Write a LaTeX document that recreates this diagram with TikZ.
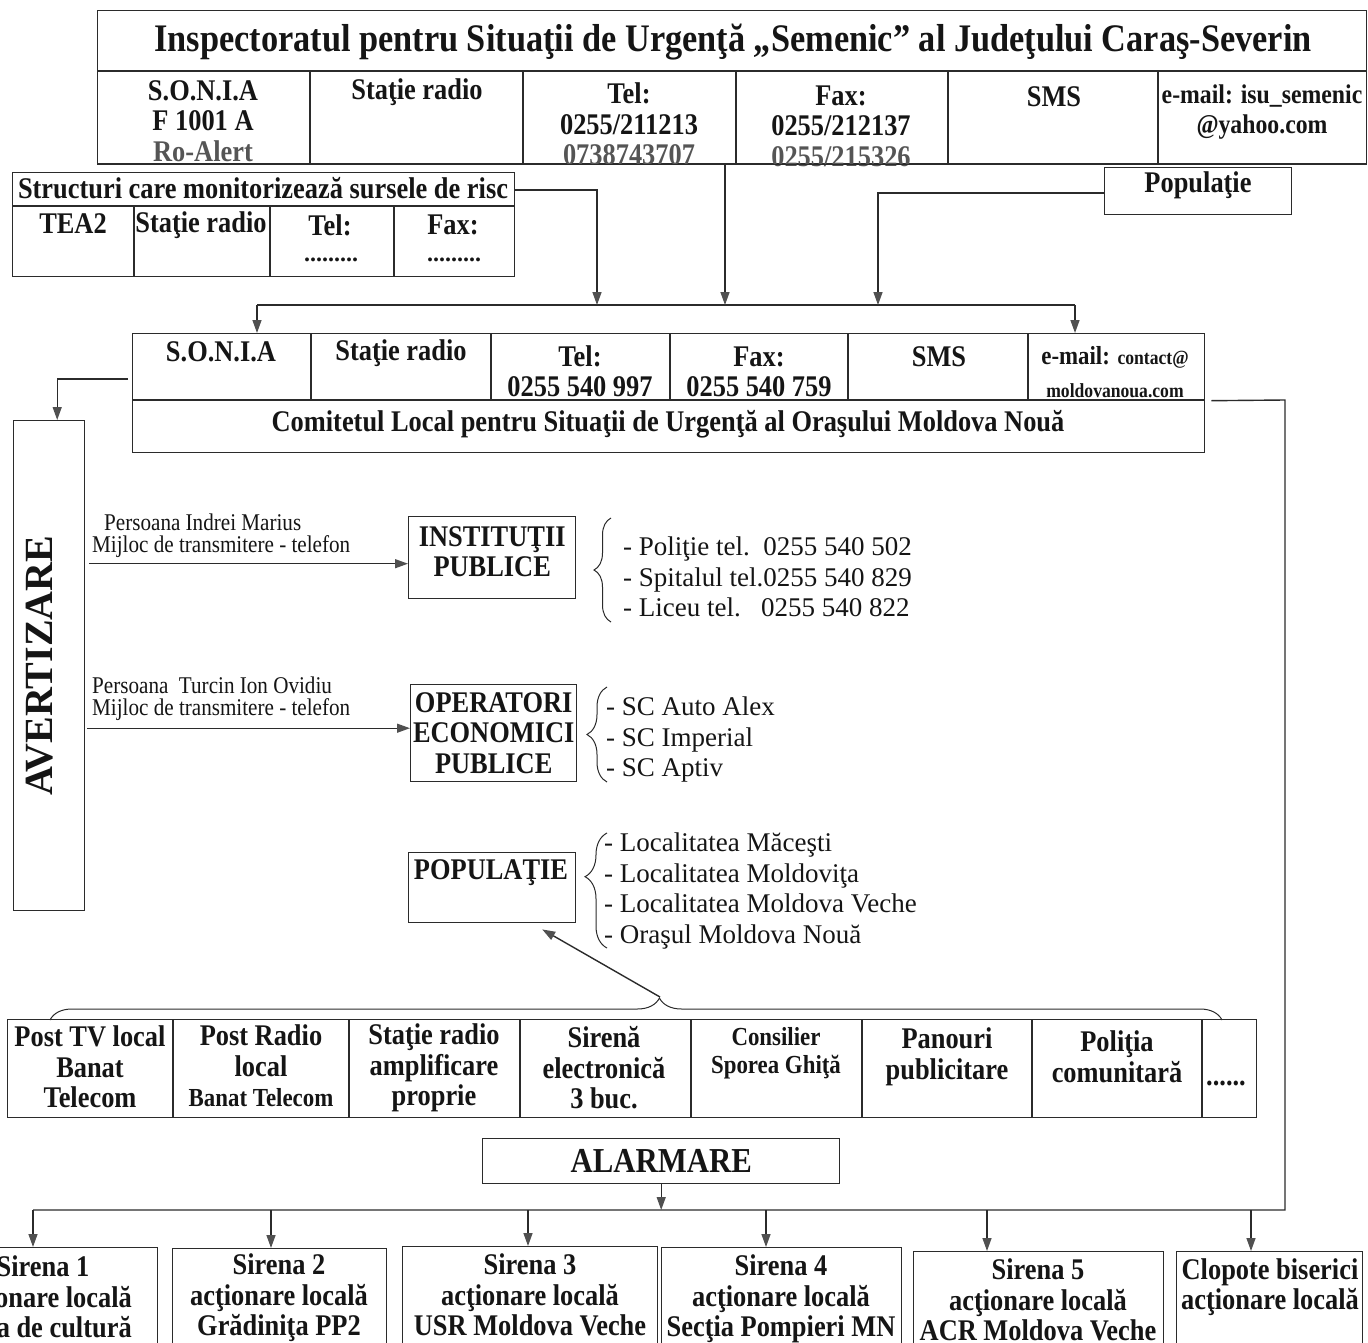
\documentclass[tikz,border=0pt]{standalone}
\usepackage{fontspec}
\setmainfont{Liberation Serif}
\newfontfamily\cnd[FakeStretch=0.88]{Liberation Serif}
\usetikzlibrary{arrows.meta,decorations.pathreplacing,calc}
\definecolor{linec}{HTML}{2B2B2B}
\definecolor{txt}{HTML}{151515}
\definecolor{arrc}{HTML}{505050}
\definecolor{gry}{HTML}{555555}
\begin{document}
\begin{tikzpicture}[x=1pt,y=-1pt,
  ln/.style={draw=linec, line width=1.4pt},
  box/.style={ln, rectangle, inner sep=0pt, anchor=north west},
  arr/.style={-{Triangle[length=13pt,width=9pt,color=arrc]}},
  tb/.style={font=\cnd\bfseries\fontsize{30}{30.5}\selectfont, align=center, inner sep=0pt, text=txt},
  tbs/.style={font=\cnd\bfseries\fontsize{26}{28}\selectfont, align=center, inner sep=0pt, text=txt},
  lab/.style={font=\cnd\fontsize{24}{25}\selectfont, inner sep=0pt, anchor=west, text=txt},
  lst/.style={font=\fontsize{27}{30.5}\selectfont, align=left, inner sep=0pt, anchor=west, text=txt},
  brc/.style={draw=linec, line width=1pt, decorate},
]
\useasboundingbox (0,0) rectangle (1368,1343);
\clip (0,0) rectangle (1368,1343);

% ---------- boxes ----------
\node[box, minimum width=1269pt, minimum height=153pt] (isu) at (97,10) {};
\node[box, minimum width=502pt, minimum height=104pt] (struct) at (12,172) {};
\node[box, minimum width=187pt, minimum height=47pt] (popT) at (1104,167) {};
\node[box, minimum width=1072pt, minimum height=119pt] (clsu) at (132,333) {};
\node[box, minimum width=71pt, minimum height=490pt] (avert) at (13,420) {};
\node[box, minimum width=167pt, minimum height=82pt] (inst) at (408,516) {};
\node[box, minimum width=166pt, minimum height=97pt] (oper) at (410,684) {};
\node[box, minimum width=167pt, minimum height=70pt] (popul) at (408,852) {};
\node[box, minimum width=1249pt, minimum height=98pt] (media) at (7,1019) {};
\node[box, minimum width=357pt, minimum height=45pt] (alarm) at (482,1138) {};
\node[box, minimum width=227pt, minimum height=120pt] (s1) at (-70,1247) {};
\node[box, minimum width=214pt, minimum height=120pt] (s2) at (172,1248) {};
\node[box, minimum width=255pt, minimum height=120pt] (s3) at (402,1246) {};
\node[box, minimum width=240pt, minimum height=120pt] (s4) at (661,1247) {};
\node[box, minimum width=250pt, minimum height=120pt] (s5) at (913,1251) {};
\node[box, minimum width=186pt, minimum height=120pt] (s6) at (1176,1251) {};

% ---------- table inner lines ----------
\draw[ln] (97,71) -- (1366,71);
\foreach \x in {310,523,736,948,1158} \draw[ln] (\x,71) -- (\x,163);
\draw[ln] (12,206) -- (514,206);
\foreach \x in {134,270,394} \draw[ln] (\x,206) -- (\x,276);
\draw[ln] (132,400) -- (1204,400);
\foreach \x in {311,491,670,848,1028} \draw[ln] (\x,333) -- (\x,400);
\foreach \x in {173,349,520,691,862,1032,1202} \draw[ln] (\x,1019) -- (\x,1117);

% ---------- texts: ISU ----------
\node[font=\cnd\bfseries\fontsize{39}{40}\selectfont, inner sep=0pt, text=txt] (title) at (733,42)
  {Inspectoratul pentru Situaţii de Urgenţă „Semenic” al Judeţului Caraş-Severin};
\node[tb] (i1) at (203,121) {S.O.N.I.A\\F 1001 A\\\textcolor{gry}{Ro-Alert}};
\node[tb] (i2) at (417,92) {Staţie radio};
\node[tb] (i3) at (629,124) {Tel:\\0255/211213\\\textcolor{gry}{0738743707}};
\node[tb] (i4) at (841,126) {Fax:\\0255/212137\\\textcolor{gry}{0255/215326}};
\node[tb] (i5) at (1054,97) {SMS};
\node[font=\cnd\bfseries\fontsize{27}{30}\selectfont, align=center, inner sep=0pt, text=txt] (i6) at (1262,112) {e-mail: isu\_semenic\\@yahoo.com};
\draw[ln] (isu.south west) -- (isu.south east);

% ---------- texts: structures ----------
\node[tb] (st0) at (263,188) {Structuri care monitorizează sursele de risc};
\node[tb] (st1) at (73,224) {TEA2};
\node[tb] (st2) at (201,225) {Staţie radio};
\node[tb] (st3) at (330,225) {Tel:};
\node[tb, font=\bfseries\fontsize{24}{24}\selectfont] (st3d) at (331,260) {.........};
\node[tb] (st4) at (453,225) {Fax:};
\node[tb, font=\bfseries\fontsize{24}{24}\selectfont] (st4d) at (454,260) {.........};
\node[tb] (pt) at (1198,185) {Populaţie};

% ---------- texts: CLSU ----------
\node[tb] (c1) at (221,352) {S.O.N.I.A};
\node[tb] (c2) at (401,353) {Staţie radio};
\node[tb] (c3) at (580,371) {Tel:\\0255 540 997};
\node[tb] (c4) at (759,372) {Fax:\\0255 540 759};
\node[tb] (c5) at (939,357) {SMS};
\node[tbs] (c6) at (1115,357) {e-mail: {\fontsize{20}{20}\selectfont contact@}};
\node[tb, font=\cnd\bfseries\fontsize{20}{20}\selectfont] (c7) at (1115,391) {moldovanoua.com};
\node[tb] (c8) at (668,424) {Comitetul Local pentru Situaţii de Urgenţă al Oraşului Moldova Nouă};

% ---------- connectors top ----------
\coordinate (bw) at (257,305);
\coordinate (b1) at (597,305);
\coordinate (b2) at (725,305);
\coordinate (b3) at (878,305);
\coordinate (be) at (1075,305);
\draw[ln] (bw) -- (be);
\draw[ln,arr] ($(struct.north east)+(0,18)$) -| (b1);
\draw[ln,arr] (b2 |- isu.south) -- (b2);
\draw[ln,arr] ($(popT.west)+(0,2)$) -| (b3);
\draw[ln,arr] (bw) -- (bw |- clsu.north);
\draw[ln,arr] (be) -- (be |- clsu.north);

% ---------- avertizare ----------
\draw[ln,arr] ($(clsu.north west)+(-4,46)$) -| ($(avert.north)+(8,0)$);
\node[rotate=90, font=\bfseries\fontsize{40}{40}\selectfont, inner sep=0pt, text=txt] (avtxt)
  at ($(avert.center)+(-10,0)$) {AVERTIZARE};

\draw[ln,arr] ($(avert.east |- inst.west)+(4,6)$) -- ($(inst.west)+(0,6)$);
\draw[ln,arr] ($(avert.east |- oper.west)+(2,-5)$) -- ($(oper.west)+(0,-5)$);
\node[lab] (p1a) at (104,522) {Persoana Indrei Marius};
\node[lab] (p1b) at (92,547) {Mijloc de transmitere - telefon};
\node[lab] (p2a) at (92,685) {Persoana\ \ Turcin Ion Ovidiu};
\node[lab] (p2b) at (92,710) {Mijloc de transmitere - telefon};

\node[tb] (instt) at ($(inst.center)+(0,-6)$) {INSTITUŢII\\PUBLICE};
\node[tb] (opert) at (oper.center) {OPERATORI\\ECONOMICI\\PUBLICE};
\node[tb] (popult) at (491,873) {POPULAŢIE};

\draw[brc, decoration={brace, amplitude=17pt, aspect=0.5}] (611,622) -- (611,518);
\draw[brc, decoration={brace, amplitude=20pt, aspect=0.5}] (607,782) -- (607,687);
\draw[brc, decoration={brace, amplitude=22pt, aspect=0.62}] (607,948) -- (607,833);

\node[lst] (l1) at (623,577) {- Poliţie tel.\ \ 0255 540 502\\- Spitalul tel.0255 540 829\\- Liceu tel.\ \ \ 0255 540 822};
\node[lst] (l2) at (606,740) {- SC Auto Alex\\- SC Imperial\\- SC Aptiv};
\node[lst] (l3) at (604,891) {- Localitatea Măceşti\\- Localitatea Moldoviţa\\- Localitatea Moldova Veche\\- Oraşul Moldova Nouă};

% ---------- media ----------
\draw[brc, decoration={brace, amplitude=22pt, aspect=0.52}] (50,1020) -- (1222,1020);
\coordinate (btip) at (660,997);
\draw[ln,arr] (btip) -- ($(popul.south)+(50,6)$);

\node[tb] (m1) at (90,1067) {Post TV local\\Banat\\Telecom};
\node[tb] (m2) at (261,1066) {Post Radio\\local\\{\fontsize{26}{30}\selectfont Banat Telecom}};
\node[tb] (m3) at (434,1068) {Staţie radio\\amplificare\\proprie};
\node[tb] (m4) at (604,1068) {Sirenă\\electronică\\3 buc.};
\node[tbs] (m5) at (776,1053) {Consilier\\Sporea Ghiţă};
\node[tb] (m6) at (947,1057) {Panouri\\publicitare};
\node[tb] (m7) at (1117,1057) {Poliţia\\comunitară};
\node[tb] (m8) at (1226,1083) {......};

% ---------- alarmare ----------
\node[font=\cnd\bfseries\fontsize{35}{35}\selectfont, inner sep=0pt, text=txt] (alt) at (alarm.center) {ALARMARE};
\coordinate (rt) at (1285,400);
\coordinate (rb) at (1285,1210);
\coordinate (lb) at (33,1210);
\coordinate (a2) at (271,1210);
\coordinate (a3) at (528,1210);
\coordinate (a4) at (766,1210);
\coordinate (a5) at (987,1210);
\coordinate (a6) at (1251,1210);
\draw[ln] ($(clsu.east)+(6,7.5)$) -- (rt) -- (rb) -- (lb);
\draw[ln,arr] (alarm.south) -- (alarm.south |- lb);
\draw[ln,arr] (lb) -- (lb |- s1.north);
\draw[ln,arr] (a2) -- (a2 |- s2.north);
\draw[ln,arr] (a3) -- (a3 |- s3.north);
\draw[ln,arr] (a4) -- (a4 |- s4.north);
\draw[ln,arr] (a5) -- (a5 |- s5.north);
\draw[ln,arr] (a6) -- (a6 |- s6.north);

\node[tb] (s1t) at (43,1297) {Sirena 1\\acţionare locală\\Casa de cultură};
\node[tb] (s2t) at (279,1298) {Sirena 2\\acţionare locală\\Grădiniţa PP2};
\node[tb] (s3t) at (530,1295) {Sirena 3\\acţionare locală\\USR Moldova Veche};
\node[tb] (s4t) at (781,1299) {Sirena 4\\acţionare locală\\Secţia Pompieri MN};
\node[tb] (s5t) at (1038,1300) {Sirena 5\\acţionare locală\\ACR Moldova Veche};
\node[tb] (s6t) at (1270,1287) {Clopote biserici\\acţionare locală};
\end{tikzpicture}
\end{document}
